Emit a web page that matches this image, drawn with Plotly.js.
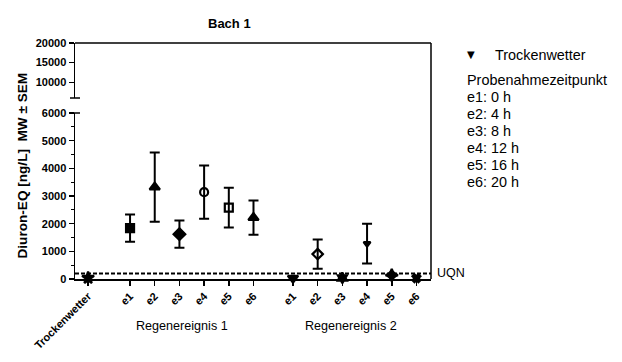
<!DOCTYPE html>
<html>
<head>
<meta charset="utf-8">
<script src="https://cdn.plot.ly/plotly-3.0.1.min.js"></script>
<style>html,body{margin:0;padding:0;background:#fff;}#chart{width:622px;height:362px;}</style>
</head>
<body>
<div id="chart"></div>
<script>
// ---- data ----
const chartTitle = "Bach 1";
const yTitle = "Diuron-EQ [ng/L]\u00a0 MW ± SEM";
const dryLabel = "Trockenwetter";
const dryMean = [40];
const drySem = [null];
const eventLabels = ["e1", "e2", "e3", "e4", "e5", "e6"];
const groupLabels = ["Regenereignis 1", "Regenereignis 2"];
const rain1Mean = [1840, 3320, 1620, 3140, 2580, 2220];
const rain1Sem = [490, 1250, 490, 960, 720, 620];
const rain2Mean = [30, 900, 40, 1280, 140, 30];
const rain2Sem = [null, 525, null, 720, null, null];
const uqnValue = 200;
const uqnLabel = "UQN";
const lowerTicks = [0, 1000, 2000, 3000, 4000, 5000, 6000];
const upperTicks = [10000, 15000, 20000];
const legendMarkerLabel = "Trockenwetter";
const legendLines = ["Probenahmezeitpunkt", "e1: 0 h", "e2: 4 h", "e3: 8 h", "e4: 12 h", "e5: 16 h", "e6: 20 h"];

// ---- layout helpers ----
const FONT = "Liberation Sans, Arial, sans-serif";
const plotL = 75, plotR = 431, plotT = 43, plotB = 279, W = 622, H = 362;
const pxX = p => (p - plotL) / (plotR - plotL);
const pxY = p => (plotB - p) / (plotB - plotT);

const groupStart = [1.7, 8.3];
const xs = [0];
const labels = [dryLabel];
const means = dryMean.slice();
const sems = drySem.slice();
[rain1Mean, rain2Mean].forEach((arr, g) => {
  arr.forEach((v, i) => {
    xs.push(groupStart[g] + i);
    labels.push(eventLabels[i]);
    means.push(v);
    sems.push([rain1Sem, rain2Sem][g][i]);
  });
});
const symbols = ["star",
  "square", "triangle-up", "diamond", "circle-open", "square-open", "triangle-up",
  "triangle-down", "diamond-open", "hexagram", "triangle-down", "star-diamond", "x"];
const sizes = [9, 8, 9, 9, 8, 8, 9, 9, 8, 8, 6, 9, 7];

const trace = {
  type: "scatter", mode: "markers",
  x: xs, y: means,
  cliponaxis: false,
  marker: {symbol: symbols, size: sizes, opacity: 1, color: "#000", line: {color: "#000", width: 2.2}},
  error_y: {type: "data", array: sems.map(v => v == null ? NaN : v), visible: true,
            color: "#000", thickness: 2, width: 5},
  hoverinfo: "x+y", showlegend: false
};

const annotations = [
  {text: "<b>" + chartTitle + "</b>", xref: "paper", yref: "paper", x: pxX(229.5), y: pxY(23),
   showarrow: false, font: {family: FONT, size: 13, color: "#000"}, xanchor: "center", yanchor: "middle"},
  {text: "<b>" + yTitle + "</b>", xref: "paper", yref: "paper", x: pxX(22), y: pxY(165.5), textangle: -90,
   showarrow: false, font: {family: FONT, size: 13.6, color: "#000"}, xanchor: "center", yanchor: "middle"},
  {text: uqnLabel, xref: "paper", yref: "y", x: pxX(435), y: uqnValue, showarrow: false,
   xanchor: "left", yanchor: "middle", font: {family: FONT, size: 12.5, color: "#000"}},
  {text: "▼", xref: "paper", yref: "paper", x: pxX(471), y: pxY(55), showarrow: false,
   xanchor: "center", yanchor: "middle", font: {family: "DejaVu Sans", size: 10, color: "#000"}},
  {text: legendMarkerLabel, xref: "paper", yref: "paper", x: pxX(493), y: pxY(55), showarrow: false,
   xanchor: "left", yanchor: "middle", font: {family: FONT, size: 14.4, color: "#000"}}
];
const groupCenters = [pxX(182), pxX(350.5)];
groupLabels.forEach((t, g) => annotations.push({
  text: t, xref: "paper", yref: "paper", x: groupCenters[g], y: pxY(326), showarrow: false,
  xanchor: "center", yanchor: "middle", font: {family: FONT, size: 12.6, color: "#000"}
}));
legendLines.forEach((t, i) => annotations.push({
  text: t, xref: "paper", yref: "paper", x: pxX(465), y: pxY(80 + i * 16.95), showarrow: false,
  xanchor: "left", yanchor: "middle", font: {family: FONT, size: 14.4, color: "#000"}
}));

const lowerTop = pxY(113), upperBot = pxY(98);
const shapes = [
  {type: "line", xref: "paper", yref: "paper", x0: 0, x1: 1, y0: 1, y1: 1, line: {color: "#000", width: 1.5}},
  {type: "line", xref: "paper", yref: "paper", x0: 1, x1: 1, y0: 0, y1: 1, line: {color: "#000", width: 1.5}},
  {type: "line", xref: "paper", yref: "y", x0: 0, x1: 1, y0: uqnValue, y1: uqnValue,
   line: {color: "#000", width: 2, dash: "4px,2px"}},
  {type: "line", xref: "paper", yref: "paper", xsizemode: "pixel", xanchor: 0, x0: -5, x1: 5,
   y0: upperBot, y1: upperBot, line: {color: "#000", width: 1.5}},
  {type: "line", xref: "paper", yref: "paper", xsizemode: "pixel", xanchor: 0, x0: -5, x1: 5,
   y0: lowerTop, y1: lowerTop, line: {color: "#000", width: 1.5}}
];

const tickFont = {family: FONT, size: 11, color: "#000"};
const layout = {
  width: W, height: H,
  margin: {l: plotL, r: W - plotR, t: plotT, b: H - plotB, pad: 0},
  paper_bgcolor: "#fff", plot_bgcolor: "#fff",
  showlegend: false,
  xaxis: {
    range: [-0.53, 13.89], anchor: "y",
    tickmode: "array", tickvals: xs, ticktext: labels.map(l => "<b>" + l + "</b>"),
    tickangle: -45, ticks: "outside", ticklen: 5, tickwidth: 1.5, tickcolor: "#000",
    showline: true, linecolor: "#000", linewidth: 1.5, showgrid: false, zeroline: false,
    tickfont: tickFont
  },
  yaxis: {
    domain: [0, lowerTop], range: [0, 6000], anchor: "x",
    tickmode: "array", tickvals: lowerTicks, ticktext: lowerTicks.map(v => "<b>" + v + "</b>"),
    ticks: "outside", ticklen: 5, tickwidth: 1.5, tickcolor: "#000",
    minor: {dtick: 500, ticks: "outside", ticklen: 3, tickwidth: 1.2, tickcolor: "#000", showgrid: false},
    showline: true, linecolor: "#000", linewidth: 1.5, showgrid: false, zeroline: false,
    tickfont: tickFont
  },
  yaxis2: {
    domain: [upperBot, 1], range: [6000, 20000], anchor: "x",
    tickmode: "array", tickvals: upperTicks, ticktext: upperTicks.map(v => "<b>" + v + "</b>"),
    ticks: "outside", ticklen: 5, tickwidth: 1.5, tickcolor: "#000",
    showline: true, linecolor: "#000", linewidth: 1.5, showgrid: false, zeroline: false,
    tickfont: tickFont
  },
  shapes: shapes,
  annotations: annotations
};

const dummyUpper = {type: "scatter", mode: "markers", x: [], y: [], yaxis: "y2", xaxis: "x", showlegend: false, hoverinfo: "skip"};

Plotly.newPlot("chart", [trace, dummyUpper], layout, {staticPlot: true, displayModeBar: false});
</script>
</body>
</html>
